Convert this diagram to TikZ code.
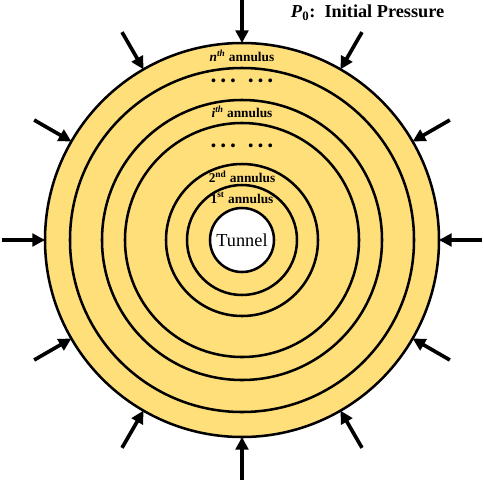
\documentclass[tikz,border=0pt]{standalone}
\usepackage{fontspec}
\setmainfont{Liberation Serif}
\usepackage{tikz}
\usetikzlibrary{arrows.meta}
\definecolor{ringfill}{RGB}{255,223,122}

\begin{document}
\begin{tikzpicture}[x=0.025cm, y=0.025cm, >={Triangle[length=9pt, width=9pt]}]
    \tikzstyle{ring} = [draw=black, line width=1.8pt]
    \tikzstyle{load} = [->, line width=2.6pt]
    \tikzstyle{tag} = [font=\fontsize{9.5}{11}\selectfont\bfseries, inner sep=1pt]
    \tikzstyle{dots} = [font=\fontsize{10}{11}\selectfont\bfseries, inner sep=1pt]

    \useasboundingbox (-242,-241) rectangle (242,240);
    \coordinate (c) at (0,0);

    % Rings, outermost first
    \fill[ringfill] (c) circle (197);
    \foreach \r in {197, 172, 140, 117, 76, 55}
        \draw[ring] (c) circle (\r);
    \node (tunnel) [circle, draw=black, line width=1.8pt, fill=white, minimum size=1.6cm, inner sep=0pt, font=\fontsize{13}{15}\selectfont] at (c) {Tunnel};

    % Annulus labels
    \node (ann1) [tag] at (0,42) {1\textsuperscript{st} annulus};
    \node (ann2) [tag] at (0,63) {2\textsuperscript{nd} annulus};
    \node (dotsA) [dots] at (0,93) {•\hspace{3.5pt}•\hspace{3.5pt}•\hspace{9pt}•\hspace{3.5pt}•\hspace{3.5pt}•};
    \node (anni) [tag] at (0,128) {\textit{i}\textsuperscript{\textit{th}} annulus};
    \node (dotsB) [dots] at (0,158) {•\hspace{3.5pt}•\hspace{3.5pt}•\hspace{9pt}•\hspace{3.5pt}•\hspace{3.5pt}•};
    \node (annn) [tag] at (0,184) {\textit{n}\textsuperscript{\textit{th}} annulus};

    % Initial pressure on the outer rim
    \foreach \a in {0,30,...,330} {
        \coordinate (out\a) at (\a:240);
        \coordinate (rim\a) at (\a:197);
        \draw[load] (out\a) -- (rim\a);
    }
    \node (title) [anchor=west, font=\fontsize{13}{15}\selectfont\bfseries] at (44,227) {\textit{P}\textsubscript{0}:\ \ Initial Pressure};
\end{tikzpicture}
\end{document}
